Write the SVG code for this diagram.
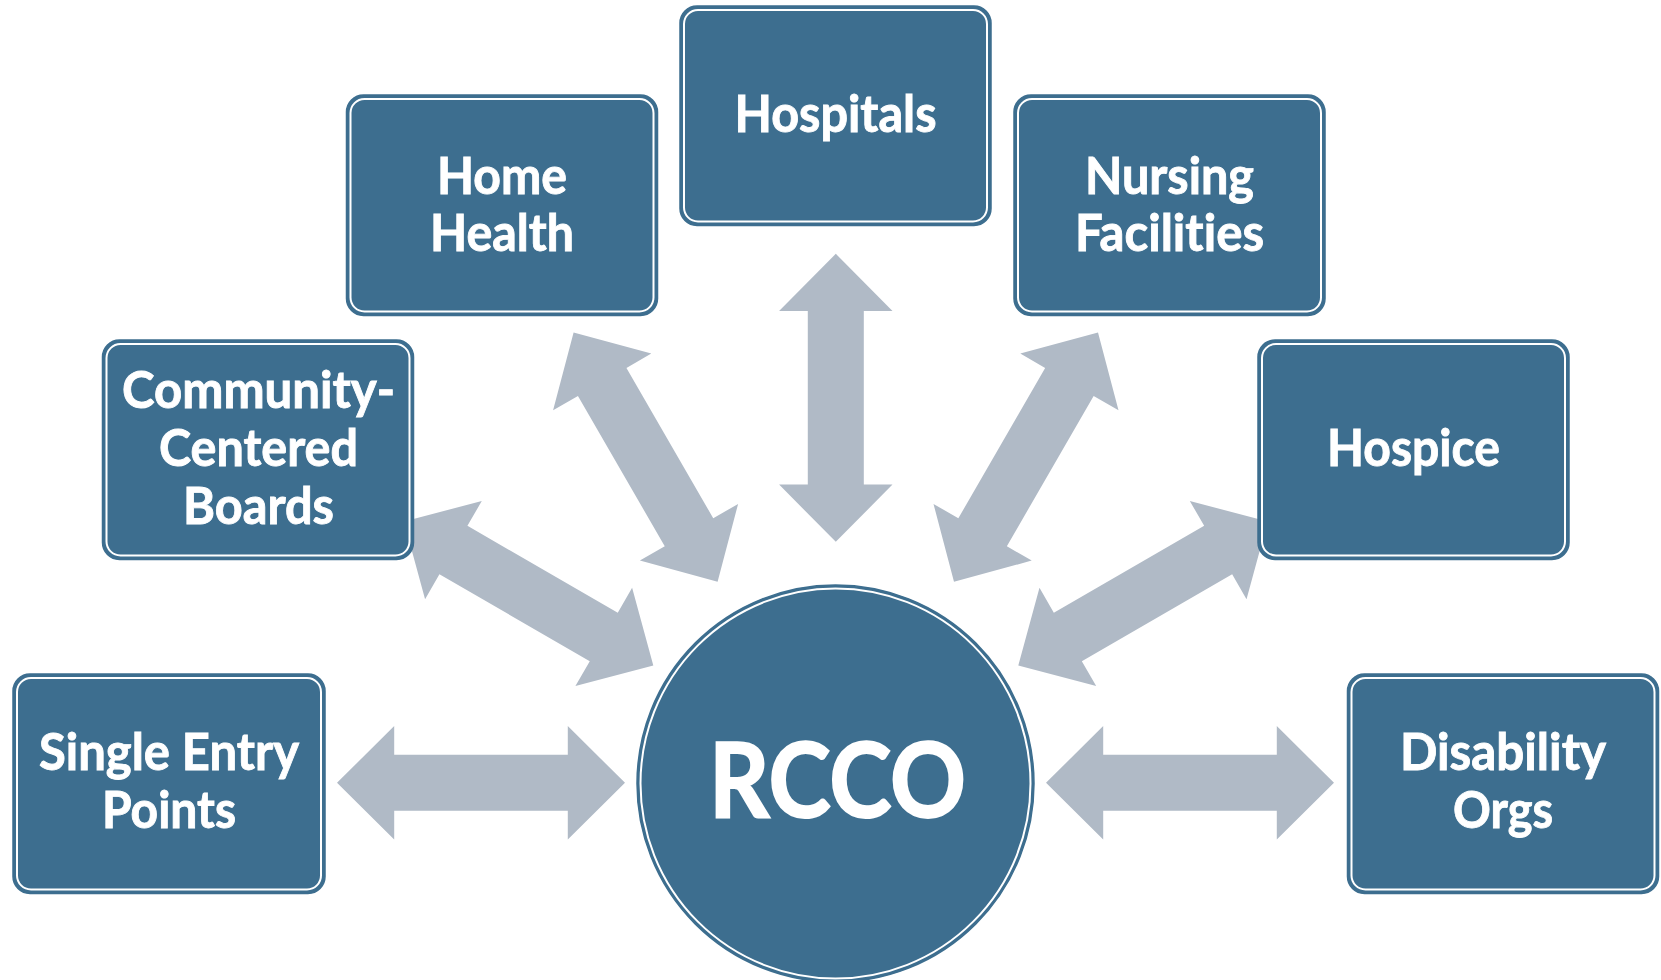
<svg xmlns="http://www.w3.org/2000/svg" width="1661" height="980" viewBox="0 0 1661 980">
<style>
.box{fill:#3D6E8F;stroke:#3D6E8F;stroke-width:1.5}
.inner{fill:none;stroke:#FFFFFF;stroke-width:2}
.lbl{font-family:Lato,"Open Sans","Liberation Sans",sans-serif;font-weight:700;font-size:52px;fill:#FFFFFF;stroke:#FFFFFF;stroke-width:0.9;text-anchor:middle;font-variant-ligatures:none;font-feature-settings:"liga" 0,"clig" 0}
.big{font-size:104px;stroke-width:2}
.arr{fill:#B0BAC6}
</style>
<defs>
<path id="dbl" d="M -144 0 L -86.8 -56.7 L -86.8 -28 L 86.8 -28 L 86.8 -56.7 L 144 0 L 86.8 56.7 L 86.8 28 L -86.8 28 L -86.8 56.7 Z"/>
</defs>
<rect width="1661" height="980" fill="#FFFFFF"/>
<g id="connectors" class="arr">
<use href="#dbl" transform="translate(835.8,397.8) rotate(90)"/>
<use href="#dbl" transform="translate(645.6,457.1) rotate(60)"/>
<use href="#dbl" transform="translate(1026,457.1) rotate(-60)"/>
<use href="#dbl" transform="translate(528.6,593.5) rotate(30)"/>
<use href="#dbl" transform="translate(1143,593.5) rotate(-30)"/>
<use href="#dbl" transform="translate(481,782.8)"/>
<use href="#dbl" transform="translate(1190,782.8)"/>
</g>
<g id="node-hospitals">
<rect class="box" x="680" y="6" width="311" height="219.5" rx="17"/>
<rect class="inner" x="684" y="10" width="303" height="211.5" rx="14"/>
<text class="lbl" x="835.5" y="132" textLength="202" lengthAdjust="spacingAndGlyphs">Hospitals</text>
</g>
<g id="node-home-health">
<rect class="box" x="346.5" y="95" width="311" height="220.5" rx="17"/>
<rect class="inner" x="350.5" y="99" width="303" height="212.5" rx="14"/>
<text class="lbl" x="502" y="194" textLength="130" lengthAdjust="spacingAndGlyphs">Home</text>
<text class="lbl" x="502" y="251" textLength="144" lengthAdjust="spacingAndGlyphs">Health</text>
</g>
<g id="node-nursing-facilities">
<rect class="box" x="1014" y="95" width="311" height="220.5" rx="17"/>
<rect class="inner" x="1018" y="99" width="303" height="212.5" rx="14"/>
<text class="lbl" x="1169.5" y="194" textLength="169" lengthAdjust="spacingAndGlyphs">Nursing</text>
<text class="lbl" x="1169.5" y="251" textLength="189" lengthAdjust="spacingAndGlyphs">Facilities</text>
</g>
<g id="node-community-centered-boards">
<rect class="box" x="102.5" y="340" width="311" height="219.5" rx="17"/>
<rect class="inner" x="106.5" y="344" width="303" height="211.5" rx="14"/>
<text class="lbl" x="258.5" y="408" textLength="273" lengthAdjust="spacingAndGlyphs">Community-</text>
<text class="lbl" x="258.5" y="466" textLength="199" lengthAdjust="spacingAndGlyphs">Centered</text>
<text class="lbl" x="258.5" y="524" textLength="151" lengthAdjust="spacingAndGlyphs">Boards</text>
</g>
<g id="node-hospice">
<rect class="box" x="1258" y="340" width="311" height="219.5" rx="17"/>
<rect class="inner" x="1262" y="344" width="303" height="211.5" rx="14"/>
<text class="lbl" x="1413.5" y="466" textLength="173" lengthAdjust="spacingAndGlyphs">Hospice</text>
</g>
<g id="node-single-entry-points">
<rect class="box" x="13" y="674" width="312" height="219.5" rx="17"/>
<rect class="inner" x="17" y="678" width="304" height="211.5" rx="14"/>
<text class="lbl" x="169" y="770" textLength="260" lengthAdjust="spacingAndGlyphs">Single Entry</text>
<text class="lbl" x="169" y="828" textLength="134" lengthAdjust="spacingAndGlyphs">Points</text>
</g>
<g id="node-disability-orgs">
<rect class="box" x="1347.5" y="674" width="311" height="219.5" rx="17"/>
<rect class="inner" x="1351.5" y="678" width="303" height="211.5" rx="14"/>
<text class="lbl" x="1503" y="770" textLength="206" lengthAdjust="spacingAndGlyphs">Disability</text>
<text class="lbl" x="1503" y="828" textLength="100" lengthAdjust="spacingAndGlyphs">Orgs</text>
</g>
<g id="node-rcco">
<circle class="box" cx="835.5" cy="783.5" r="198.5"/>
<circle class="inner" cx="835.5" cy="783.5" r="195"/>
<text class="lbl big" x="837.5" y="817" textLength="257" lengthAdjust="spacingAndGlyphs">RCCO</text>
</g>
</svg>
